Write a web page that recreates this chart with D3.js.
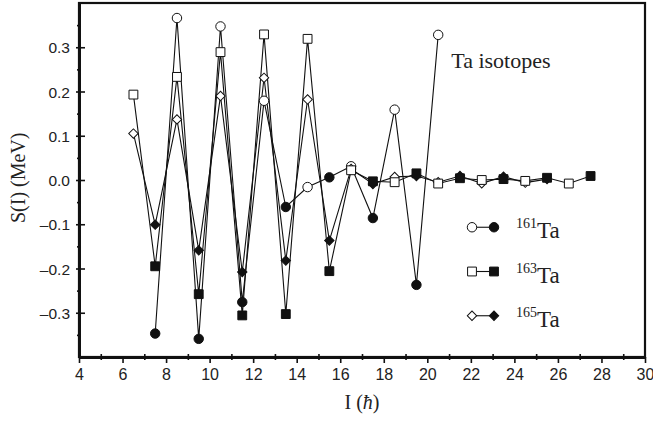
<!DOCTYPE html>
<html>
<head>
<meta charset="utf-8">
<script src="https://cdn.jsdelivr.net/npm/d3@7"></script>
<style>
  body { margin: 0; background: #fff; }
  svg { display: block; }
</style>
</head>
<body>
<div id="root"></div>
<script>
// spin values I (hbar) and S(I) (MeV)
const ta161I = [7.5, 8.5, 9.5, 10.5, 11.5, 12.5, 13.5, 14.5, 15.5, 16.5, 17.5, 18.5, 19.5, 20.5];
const ta161S = [-0.347, 0.366, -0.359, 0.347, -0.276, 0.179, -0.061, -0.016, 0.006, 0.031, -0.086, 0.159, -0.237, 0.328];

const ta163I = [6.5, 7.5, 8.5, 9.5, 10.5, 11.5, 12.5, 13.5, 14.5, 15.5, 16.5, 17.5, 18.5, 19.5, 20.5, 21.5, 22.5, 23.5, 24.5, 25.5, 26.5, 27.5];
const ta163S = [0.193, -0.195, 0.233, -0.258, 0.289, -0.306, 0.329, -0.303, 0.319, -0.206, 0.022, -0.003, -0.005, 0.015, -0.008, 0.004, 0.0, 0.002, -0.002, 0.005, -0.008, 0.009];

const ta165I = [6.5, 7.5, 8.5, 9.5, 10.5, 11.5, 12.5, 13.5, 14.5, 15.5, 16.5, 17.5, 18.5, 19.5, 20.5, 21.5, 22.5, 23.5, 24.5, 25.5];
const ta165S = [0.105, -0.101, 0.137, -0.159, 0.19, -0.208, 0.231, -0.182, 0.182, -0.137, 0.025, -0.009, 0.007, 0.009, -0.005, 0.009, -0.0075, 0.0075, -0.006, 0.002];

const xTicks = [4, 6, 8, 10, 12, 14, 16, 18, 20, 22, 24, 26, 28, 30];
const yTicks = [-0.3, -0.2, -0.1, 0.0, 0.1, 0.2, 0.3];
const seriesNames = ["161", "163", "165"];

const width = 653;
const height = 421;
const margin = { top: 3, right: 8, bottom: 64, left: 79 };

const svg = d3.select("#root")
  .append("svg")
  .attr("width", width)
  .attr("height", height)
  .attr("viewBox", `0 0 ${width} ${height}`);

const x = d3.scaleLinear().domain([4, 30]).range([margin.left, width - margin.right]);
const y = d3.scaleLinear().domain([-0.4, 0.4]).range([height - margin.bottom, margin.top]);

const sans = "'Liberation Sans', Arial, sans-serif";
const serif = "'Liberation Serif', 'Times New Roman', serif";

// frame
svg.append("rect")
  .attr("x", x(4)).attr("y", y(0.4))
  .attr("width", x(30) - x(4)).attr("height", y(-0.4) - y(0.4))
  .attr("fill", "none").attr("stroke", "#111").attr("stroke-width", 2.2);

// bottom axis
const xAxis = svg.append("g").attr("transform", `translate(0,${y(-0.4)})`);
xAxis.call(d3.axisBottom(x).tickValues(d3.range(4, 31, 1)).tickSize(0).tickFormat(""));
xAxis.select(".domain").attr("stroke", "#111").attr("stroke-width", 3.2);
xAxis.selectAll(".tick").append("line")
  .attr("y1", (d) => (d % 2 === 0 ? 0 : -3))
  .attr("y2", (d) => (d % 2 === 0 ? 6 : 3))
  .attr("stroke", "#111").attr("stroke-width", 1.6);
xAxis.selectAll(".tick")
  .filter((d) => xTicks.includes(d))
  .append("text")
  .attr("y", 23)
  .attr("text-anchor", "middle")
  .attr("fill", "#222")
  .attr("font-family", sans)
  .attr("font-size", 16)
  .text((d) => d);

// left axis
const yAxis = svg.append("g").attr("transform", `translate(${x(4)},0)`);
yAxis.call(d3.axisLeft(y).tickValues(d3.range(-0.35, 0.36, 0.05)).tickSize(0).tickFormat(""));
yAxis.select(".domain").attr("stroke", "#111").attr("stroke-width", 3);
yAxis.selectAll(".tick").append("line")
  .attr("x1", (d, i) => (i % 2 === 1 ? -3 : -2))
  .attr("x2", (d, i) => (i % 2 === 1 ? 6 : 2))
  .attr("stroke", "#111").attr("stroke-width", 1.6);
yAxis.selectAll(".tick")
  .filter((d, i) => i % 2 === 1)
  .append("text")
  .attr("x", -9)
  .attr("dy", "0.36em")
  .attr("text-anchor", "end")
  .attr("fill", "#222")
  .attr("font-family", sans)
  .attr("font-size", 15.5)
  .text((d) => (d < -0.001 ? "\u2013" + Math.abs(d).toFixed(1) : Math.abs(d).toFixed(1)));

// axis titles
svg.append("text")
  .attr("transform", `translate(25,${y(0.005)}) rotate(-90)`)
  .attr("text-anchor", "middle")
  .attr("font-family", serif)
  .attr("font-size", 20)
  .attr("fill", "#222")
  .text("S(I) (MeV)");

const xTitle = svg.append("text")
  .attr("x", x(17))
  .attr("y", height - 12)
  .attr("text-anchor", "middle")
  .attr("font-family", serif)
  .attr("font-size", 20)
  .attr("fill", "#222");
xTitle.append("tspan").text("I (");
xTitle.append("tspan").attr("font-style", "italic").text("\u0127");
xTitle.append("tspan").text(")");

svg.append("text")
  .attr("x", x(21.1))
  .attr("y", y(0.253))
  .attr("font-family", serif)
  .attr("font-size", 22)
  .attr("fill", "#222")
  .text("Ta isotopes");

// series; diamond = square turned by 45 degrees
const series = [
  { name: "161", shape: d3.symbolCircle, size: 70, rot: 0, pts: ta161I.map((v, i) => ({ I: v, S: ta161S[i] })) },
  { name: "163", shape: d3.symbolSquare, size: 78, rot: 0, pts: ta163I.map((v, i) => ({ I: v, S: ta163S[i] })) },
  { name: "165", shape: d3.symbolSquare, size: 44, rot: 45, pts: ta165I.map((v, i) => ({ I: v, S: ta165S[i] })) },
];

const isOpen = (I) => Math.round(I - 0.5) % 2 === 0;
const line = d3.line().x((d) => x(d.I)).y((d) => y(d.S));

svg.append("g")
  .selectAll("path")
  .data(series)
  .join("path")
  .attr("d", (s) => line(s.pts))
  .attr("fill", "none")
  .attr("stroke", "#111")
  .attr("stroke-width", 1.1);

// draw order: circles, diamonds, squares on top
const drawOrder = [series[0], series[2], series[1]];
drawOrder.forEach((s) => {
  svg.append("g")
    .selectAll("path")
    .data(s.pts)
    .join("path")
    .attr("transform", (d) => `translate(${x(d.I)},${y(d.S)}) rotate(${s.rot})`)
    .attr("d", d3.symbol().type(s.shape).size(s.size))
    .attr("fill", (d) => (isOpen(d.I) ? "#fff" : "#111"))
    .attr("stroke", "#111")
    .attr("stroke-width", 1);
});

// legend
const legendY = [-0.1, -0.2, -0.3];
const legend = svg.append("g");
series.forEach((s, i) => {
  const ly = y(legendY[i]) + 3;
  const lx0 = 472;
  const lx1 = 494;
  legend.append("line")
    .attr("x1", lx0).attr("x2", lx1).attr("y1", ly).attr("y2", ly)
    .attr("stroke", "#111").attr("stroke-width", 1.1);
  legend.append("path")
    .attr("transform", `translate(${lx0},${ly}) rotate(${s.rot})`)
    .attr("d", d3.symbol().type(s.shape).size(s.size))
    .attr("fill", "#fff").attr("stroke", "#111");
  legend.append("path")
    .attr("transform", `translate(${lx1},${ly}) rotate(${s.rot})`)
    .attr("d", d3.symbol().type(s.shape).size(s.size))
    .attr("fill", "#111").attr("stroke", "#111");
  const t = legend.append("text")
    .attr("x", 516)
    .attr("y", ly + 11)
    .attr("font-family", serif)
    .attr("fill", "#222");
  t.append("tspan").attr("font-size", 14).attr("dy", -10).text(s.name);
  t.append("tspan").attr("font-size", 23).attr("dy", 10).text("Ta");
});
</script>
</body>
</html>
